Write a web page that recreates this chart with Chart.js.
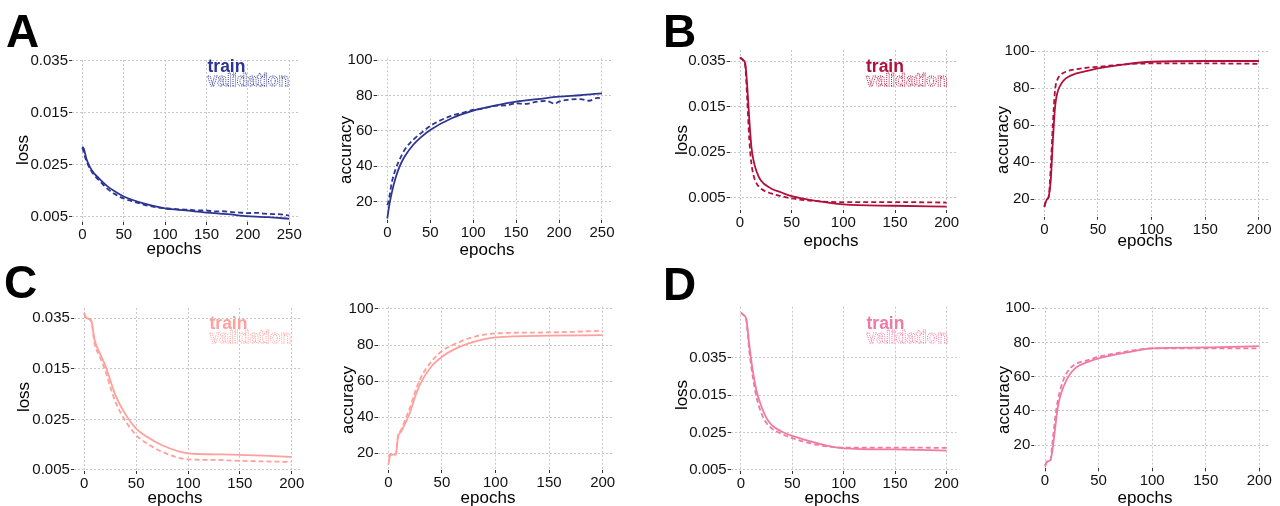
<!DOCTYPE html>
<html>
<head>
<meta charset="utf-8">
<script src="https://cdn.jsdelivr.net/npm/chart.js@4.4.1/dist/chart.umd.min.js"></script>
<style>
  html, body { margin: 0; padding: 0; background: #fff; }
  #wrap { position: relative; width: 1280px; height: 506px; overflow: hidden; background: #fff; }
  #wrap canvas { position: absolute; left: 0; top: 0; }
</style>
</head>
<body>
<div id="wrap"></div>
<script>
const FONT = "'Liberation Sans', Arial, Helvetica, sans-serif";

// ---- tick values and labels ----
const epochTicks250 = [0, 50, 100, 150, 200, 250];
const epochTicks200 = [0, 50, 100, 150, 200];
const lossTickValues = [0.005, 0.015, 0.025, 0.035];
const lossTickLabels = ['0.005', '0.025', '0.015', '0.035'];
const accTickValues = [20, 40, 60, 80, 100];
const accTickLabels = ['20', '40', '60', '80', '100'];

// ---- A ----
const aLossTrainEpochs = [0, 2, 5, 10, 15, 20, 30, 40, 50, 75, 100, 125, 150, 175, 200, 225, 250];
const aLossTrain = [0.0185, 0.0180, 0.0161, 0.0143, 0.0132, 0.0124, 0.0109, 0.0098, 0.0089, 0.0075, 0.0066, 0.0062, 0.0058, 0.0055, 0.0051, 0.0049, 0.0046];
const aLossValEpochs = [0, 2, 5, 10, 15, 20, 25, 30, 40, 50, 60, 75, 90, 100, 110, 120, 130, 140, 150, 160, 170, 180, 190, 200, 210, 220, 230, 240, 250];
const aLossVal = [0.0183, 0.0172, 0.0157, 0.0140, 0.0129, 0.0120, 0.0112, 0.0104, 0.0093, 0.0085, 0.0080, 0.0073, 0.0068, 0.0066, 0.0065, 0.0064, 0.00635, 0.0062, 0.0062, 0.0060, 0.00605, 0.0059, 0.0058, 0.0057, 0.00575, 0.0056, 0.0055, 0.00545, 0.0052];
const aAccTrainEpochs = [0, 2, 5, 10, 15, 20, 30, 40, 50, 75, 100, 125, 150, 175, 200, 225, 250];
const aAccTrain = [10.6, 17.2, 24.7, 34.1, 40.7, 45.4, 52, 56.7, 60.5, 67.1, 71.4, 74.2, 76.5, 77.9, 79.3, 80.1, 81.2];
const aAccValEpochs = [0, 1, 3, 5, 10, 15, 20, 30, 40, 50, 60, 75, 90, 100, 110, 125, 140, 150, 160, 175, 185, 195, 200, 210, 225, 235, 245, 250];
const aAccVal = [18, 19.5, 24.5, 30.4, 38.9, 44.5, 49.2, 54.9, 59, 62.8, 65.5, 68.6, 70.5, 71.8, 72.4, 74.1, 74.5, 75.6, 75.2, 76.5, 76.9, 75.4, 76.5, 77.5, 77.9, 77.0, 78.6, 78.4];

// ---- B ----
const bLossEpochs = [0, 3, 5, 7, 9, 11, 13, 16, 20, 30, 40, 50, 75, 100, 150, 200];
const bLossTrain = [0.0358, 0.0352, 0.0345, 0.0294, 0.0221, 0.0162, 0.0133, 0.0108, 0.0089, 0.0071, 0.0062, 0.0054, 0.0043, 0.0036, 0.0033, 0.0031];
const bLossVal = [0.0358, 0.0352, 0.0340, 0.0264, 0.0177, 0.0126, 0.0100, 0.0082, 0.0071, 0.0060, 0.0054, 0.0049, 0.0043, 0.0041, 0.0041, 0.0040];
const bAccEpochs = [0, 2, 4, 6, 8, 10, 12, 15, 20, 30, 40, 50, 75, 100, 150, 200];
const bAccTrain = [16, 19.6, 21.4, 30.4, 52, 69.9, 77.1, 81.6, 85.2, 87.9, 89.3, 90.6, 92.8, 94.2, 94.6, 94.6];
const bAccVal = [16, 19.8, 21, 37.6, 61, 78.9, 84.3, 87, 88.8, 90.2, 91, 91.5, 92.8, 93.3, 93.3, 93.1];

// ---- C ----
const cLossEpochs = [0, 1, 5, 7, 10, 15, 20, 25, 30, 40, 50, 60, 75, 100, 125, 150, 200];
const cLossTrain = [0.0360, 0.0353, 0.0348, 0.0343, 0.0307, 0.0281, 0.0258, 0.0228, 0.0198, 0.0159, 0.0132, 0.0116, 0.0099, 0.0083, 0.0081, 0.0080, 0.0076];
const cLossVal = [0.0360, 0.0353, 0.0348, 0.0343, 0.0300, 0.0274, 0.0248, 0.0215, 0.0185, 0.0146, 0.0119, 0.0103, 0.0086, 0.0071, 0.0070, 0.0068, 0.0066];
const cAccEpochs = [0, 2, 4, 7, 9, 12, 15, 20, 25, 30, 40, 50, 60, 75, 100, 150, 200];
const cAccTrain = [13.5, 19.1, 19.3, 19.3, 29.2, 32, 35.7, 42.2, 51.4, 58.8, 68, 73.5, 77.2, 80.9, 84.3, 85.2, 85.5];
const cAccVal = [18, 19.5, 19.4, 19.3, 29.5, 33, 37.5, 44.9, 54.1, 61.6, 70.7, 76.7, 80, 83.7, 86.5, 87, 87.9];

// ---- D ----
const dLossEpochs = [0, 3, 5, 8, 10, 15, 20, 25, 30, 40, 50, 75, 100, 150, 200];
const dLossTrain = [0.0470, 0.0463, 0.0455, 0.0388, 0.0343, 0.0263, 0.0219, 0.0188, 0.0170, 0.0152, 0.0141, 0.0121, 0.0108, 0.0105, 0.0102];
const dLossVal = [0.0470, 0.0463, 0.0454, 0.0370, 0.0326, 0.0246, 0.0201, 0.0175, 0.0161, 0.0146, 0.0135, 0.0117, 0.0110, 0.0110, 0.0109];
const dAccEpochs = [0, 2, 5, 7, 10, 12, 15, 20, 25, 30, 40, 50, 75, 100, 150, 200];
const dAccTrain = [7.3, 10.2, 11.2, 17.1, 32.7, 42.4, 50.2, 58, 62.9, 65.8, 68.7, 70.7, 74, 76.5, 77.1, 77.9];
const dAccVal = [8, 10.5, 11, 21.9, 38.5, 46.3, 54.1, 61.9, 65.8, 67.8, 69.7, 71.6, 74.6, 76.5, 76.5, 76.5];

const colors = { A: '#2d3592', B: '#b0103c', C: '#ffa09c', D: '#ef7aa3' };

// Draws axis titles, the panel letter and the train/validation key
const panelText = {
  id: 'panelText',
  afterDraw(chart, args, o) {
    const ctx = chart.ctx;
    ctx.save();
    ctx.fillStyle = '#000';
    ctx.textAlign = 'center';
    ctx.textBaseline = 'alphabetic';
    ctx.font = `17px ${FONT}`;
    ctx.fillText(o.xTitle.text, o.xTitle.x, o.xTitle.y);
    ctx.save();
    ctx.translate(o.yTitle.x, o.yTitle.y);
    ctx.rotate(-Math.PI / 2);
    ctx.fillText(o.yTitle.text, 0, 0);
    ctx.restore();
    if (o.letter) {
      ctx.textAlign = 'left';
      ctx.fillStyle = '#000';
      ctx.font = `bold 46px ${FONT}`;
      ctx.fillText(o.letter.text, o.letter.x, o.letter.y);
    }
    if (o.key) {
      ctx.textAlign = 'left';
      ctx.font = `bold 17.5px ${FONT}`;
      ctx.fillStyle = o.key.color;
      ctx.fillText('train', o.key.x, o.key.y1);
      ctx.strokeStyle = o.key.color;
      ctx.lineWidth = 0.9;
      ctx.setLineDash([1, 1]);
      ctx.strokeText('validation', o.key.x, o.key.y2);
    }
    ctx.restore();
  }
};

function pts(xs, ys) { return xs.map((x, i) => ({ x, y: ys[i] })); }

const wrap = document.getElementById('wrap');
const Y_AXIS_W = 50, X_AXIS_H = 25;

function panel(p) {
  const cv = document.createElement('canvas');
  cv.width = 1280; cv.height = 506;
  wrap.appendChild(cv);
  const gridCommon = { color: '#c8c8c8', lineWidth: 1, tickLength: 3, tickColor: '#333', tickWidth: 1 };
  const tickFont = { family: FONT, size: 15 };
  return new Chart(cv.getContext('2d'), {
    type: 'line',
    data: {
      datasets: [
        { label: 'validation', data: pts(p.valX, p.valY), borderColor: p.color, borderWidth: 1.8,
          borderDash: [5, 3], pointRadius: 0, fill: false, cubicInterpolationMode: 'monotone' },
        { label: 'train', data: pts(p.trainX, p.trainY), borderColor: p.color, borderWidth: 1.8,
          pointRadius: 0, fill: false, cubicInterpolationMode: 'monotone' }
      ]
    },
    options: {
      responsive: false, animation: false, devicePixelRatio: 1,
      events: [],
      layout: { padding: { left: p.rect.l - Y_AXIS_W, top: p.rect.t, right: 1280 - p.rect.r, bottom: 506 - p.rect.b - X_AXIS_H } },
      plugins: {
        legend: { display: false }, tooltip: { enabled: false },
        panelText: p.text
      },
      scales: {
        x: {
          type: 'linear', min: p.x[0], max: p.x[1],
          afterBuildTicks: s => { s.ticks = p.xTicks.map(v => ({ value: v })); },
          afterFit: s => { s.height = X_AXIS_H; },
          grid: gridCommon,
          border: { display: false, dash: [2, 2] },
          ticks: { font: tickFont, color: '#111', padding: 1, maxRotation: 0, autoSkip: false,
                   callback: v => String(v) }
        },
        y: {
          type: 'linear', min: p.y[0], max: p.y[1],
          afterBuildTicks: s => { s.ticks = p.yTicks.map(v => ({ value: v })); },
          afterFit: s => { s.width = Y_AXIS_W; },
          grid: gridCommon,
          border: { display: false, dash: [2, 2] },
          ticks: { font: tickFont, color: '#111', padding: 1, autoSkip: false,
                   callback: (v, i) => p.yLabels[i] }
        }
      }
    },
    plugins: [panelText]
  });
}

// A
panel({ rect: { l: 72, t: 60, r: 299.6, b: 222 }, x: [-12.5, 262.5], y: [0.00398, 0.03519],
  xTicks: epochTicks250, yTicks: lossTickValues, yLabels: lossTickLabels, color: colors.A,
  trainX: aLossTrainEpochs, trainY: aLossTrain, valX: aLossValEpochs, valY: aLossVal,
  text: { xTitle: { text: 'epochs', x: 174, y: 254 }, yTitle: { text: 'loss', x: 28, y: 150 },
          letter: { text: 'A', x: 6, y: 46.5 }, key: { color: colors.A, x: 207.5, y1: 72, y2: 86 } } });
panel({ rect: { l: 376.6, t: 58.3, r: 612.7, b: 220 }, x: [-12.5, 262.5], y: [9.67, 100.96],
  xTicks: epochTicks250, yTicks: accTickValues, yLabels: accTickLabels, color: colors.A,
  trainX: aAccTrainEpochs, trainY: aAccTrain, valX: aAccValEpochs, valY: aAccVal,
  text: { xTitle: { text: 'epochs', x: 487, y: 255 }, yTitle: { text: 'accuracy', x: 351, y: 150 } } });

// B
panel({ rect: { l: 729.7, t: 50, r: 957, b: 210 }, x: [-10, 210], y: [0.00237, 0.03741],
  xTicks: epochTicks200, yTicks: lossTickValues, yLabels: lossTickLabels, color: colors.B,
  trainX: bLossEpochs, trainY: bLossTrain, valX: bLossEpochs, valY: bLossVal,
  text: { xTitle: { text: 'epochs', x: 831, y: 246 }, yTitle: { text: 'loss', x: 686.5, y: 140 },
          letter: { text: 'B', x: 663, y: 46.5 }, key: { color: colors.B, x: 866, y1: 72, y2: 86.3 } } });
panel({ rect: { l: 1033.6, t: 50, r: 1269.7, b: 216.7 }, x: [-10, 210], y: [10.61, 100.54],
  xTicks: epochTicks200, yTicks: accTickValues, yLabels: accTickLabels, color: colors.B,
  trainX: bAccEpochs, trainY: bAccTrain, valX: bAccEpochs, valY: bAccVal,
  text: { xTitle: { text: 'epochs', x: 1145, y: 246 }, yTitle: { text: 'accuracy', x: 1008, y: 140 } } });

// C
panel({ rect: { l: 73.9, t: 308, r: 302.1, b: 471 }, x: [-10, 210], y: [0.0048, 0.03704],
  xTicks: epochTicks200, yTicks: lossTickValues, yLabels: lossTickLabels, color: colors.C,
  trainX: cLossEpochs, trainY: cLossTrain, valX: cLossEpochs, valY: cLossVal,
  text: { xTitle: { text: 'epochs', x: 175, y: 503 }, yTitle: { text: 'loss', x: 29, y: 397 },
          letter: { text: 'C', x: 4, y: 298 }, key: { color: colors.C, x: 209.5, y1: 328.5, y2: 343.3 } } });
panel({ rect: { l: 377.6, t: 306.7, r: 613.4, b: 470 }, x: [-10, 210], y: [10.74, 101.27],
  xTicks: epochTicks200, yTicks: accTickValues, yLabels: accTickLabels, color: colors.C,
  trainX: cAccEpochs, trainY: cAccTrain, valX: cAccEpochs, valY: cAccVal,
  text: { xTitle: { text: 'epochs', x: 488, y: 503 }, yTitle: { text: 'accuracy', x: 353, y: 400 } } });

// D
panel({ rect: { l: 730.7, t: 306.7, r: 956.7, b: 471 }, x: [-10, 210], y: [0.00473, 0.04863],
  xTicks: epochTicks200, yTicks: lossTickValues, yLabels: lossTickLabels, color: colors.D,
  trainX: dLossEpochs, trainY: dLossTrain, valX: dLossEpochs, valY: dLossVal,
  text: { xTitle: { text: 'epochs', x: 832, y: 503 }, yTitle: { text: 'loss', x: 686.5, y: 395 },
          letter: { text: 'D', x: 663, y: 300 }, key: { color: colors.D, x: 866.5, y1: 329, y2: 343.3 } } });
panel({ rect: { l: 1034.3, t: 306.7, r: 1270, b: 468.3 }, x: [-10, 210], y: [6.37, 100.94],
  xTicks: epochTicks200, yTicks: accTickValues, yLabels: accTickLabels, color: colors.D,
  trainX: dAccEpochs, trainY: dAccTrain, valX: dAccEpochs, valY: dAccVal,
  text: { xTitle: { text: 'epochs', x: 1145, y: 503 }, yTitle: { text: 'accuracy', x: 1008.5, y: 400 } } });
</script>
</body>
</html>
